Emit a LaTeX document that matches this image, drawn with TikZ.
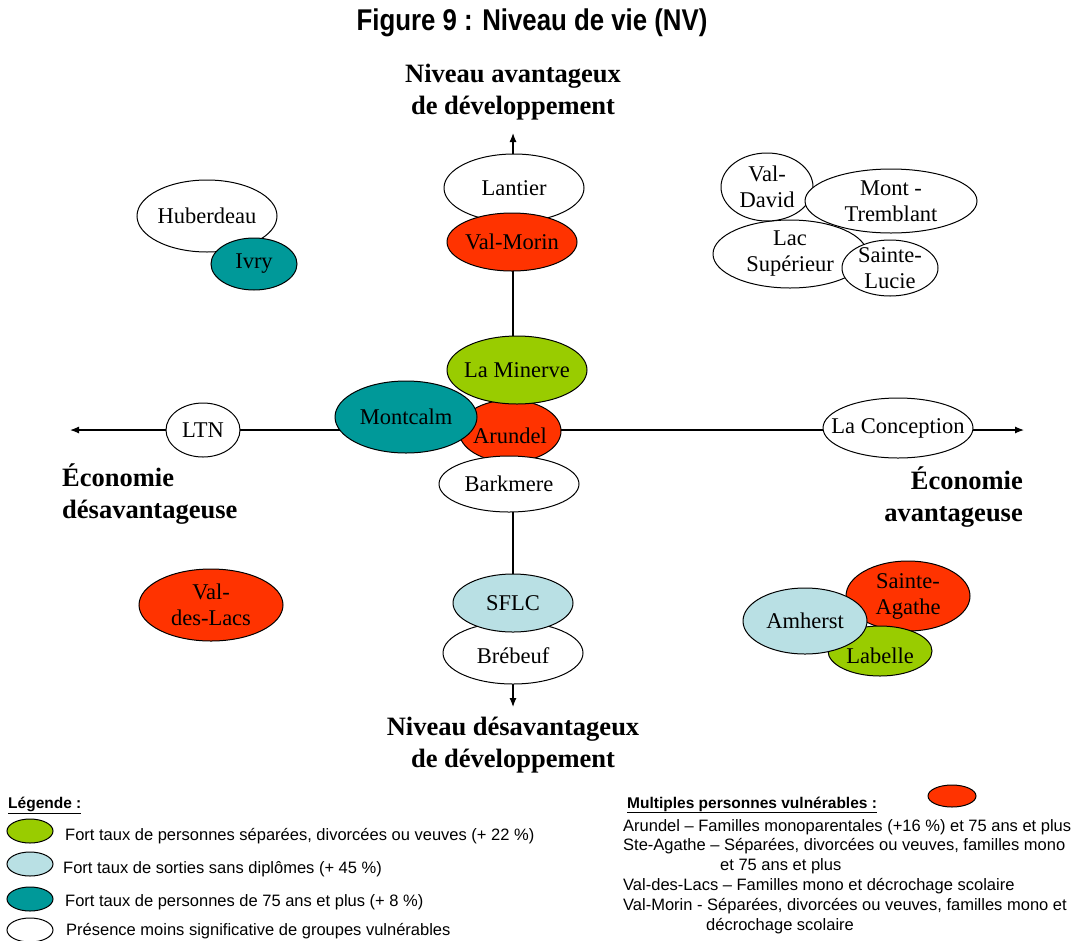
\documentclass[tikz,border=0pt]{standalone}
\usepackage{fontspec}
\setmainfont{Liberation Serif}
\setsansfont{Liberation Sans}
\newfontfamily\titlefont[FakeStretch=0.86]{Liberation Sans}
\usetikzlibrary{shapes.geometric,arrows.meta}
\definecolor{cgreen}{HTML}{99CC00}
\definecolor{cblue}{HTML}{B9E0E4}
\definecolor{cteal}{HTML}{009999}
\definecolor{cred}{HTML}{FF3300}
\tikzset{
  ell/.style={ellipse, draw=black, line width=1pt, inner sep=0pt, fill=white},
  lbl/.style={inner sep=0pt, align=center, font=\fontsize{22.5}{26}\selectfont},
  axis/.style={line width=1.2pt, -{Latex[length=9pt,width=7pt]}},
  axislbl/.style={font=\fontsize{26.5}{32}\selectfont\bfseries, inner sep=0pt},
  leg/.style={anchor=base west, font=\sffamily\fontsize{16.5}{20}\selectfont, inner sep=0pt},
  leghead/.style={anchor=base west, font=\sffamily\bfseries\fontsize{15.5}{20}\selectfont, inner sep=0pt},
  legell/.style={ellipse, draw, line width=1pt, minimum width=46pt, minimum height=24pt, inner sep=0pt},
}
\begin{document}
\begin{tikzpicture}[x=1pt,y=-1pt]
\useasboundingbox (0,0) rectangle (1075,940);

% title
\node[font=\titlefont\bfseries\fontsize{30}{34}\selectfont, inner sep=0pt] (title) at (532,23) {Figure 9 : Niveau de vie (NV)};

% axes
\coordinate (o) at (513,430);
\coordinate (top) at (513,133);
\coordinate (bot) at (513,707);
\coordinate (lft) at (70,430);
\coordinate (rgt) at (1024,430);
\draw[axis] (o) -- (top);
\draw[axis] (o) -- (bot);
\draw[axis] (o) -- (lft);
\draw[axis] (o) -- (rgt);

% axis labels
\node[axislbl, align=center] (ntop) at (513,92) {Niveau avantageux\\de développement};
\node[axislbl, align=center] (nbot) at (513,745) {Niveau désavantageux\\de développement};
\node[axislbl, align=left, anchor=west] (eleft) at (62,494) {Économie\\désavantageuse};
\node[axislbl, align=right, anchor=east] (eright) at (1023,497) {Économie\\avantageuse};

% top centre
\node[ell, minimum width=140pt, minimum height=68pt, label={[lbl]center:Lantier}] (lantier) at (514,188) {};
\node[ell, fill=cred, minimum width=130pt, minimum height=58pt, label={[lbl]center:Val-Morin}] (valmorin) at (512,242) {};

% top left
\node[ell, minimum width=140pt, minimum height=72pt, label={[lbl]center:Huberdeau}] (huberdeau) at (207,216) {};
\node[ell, fill=cteal, minimum width=86pt, minimum height=52pt, label={[lbl]center:Ivry}] (ivry) at (254,264) {};

% top right
\node[ell, minimum width=154pt, minimum height=68pt, label={[lbl]center:Lac\\Supérieur}] (lacsup) at (790,254) {};
\node[ell, minimum width=92pt, minimum height=68pt, label={[lbl]center:Val-\\David}] (valdavid) at (767,187) {};
\node[ell, minimum width=172pt, minimum height=64pt, label={[lbl]center:Mont -\\Tremblant}] (tremblant) at (891,201) {};
\node[ell, minimum width=96pt, minimum height=56pt, label={[lbl]center:Sainte-\\Lucie}] (stlucie) at (890,268) {};

% centre cluster
\node[ell, fill=cred, minimum width=102pt, minimum height=62pt, label={[lbl, yshift=-5pt]center:Arundel}] (arundel) at (510,431) {};
\node[ell, fill=cgreen, minimum width=140pt, minimum height=68pt, label={[lbl]center:La Minerve}] (laminerve) at (517,370) {};
\node[ell, fill=cteal, minimum width=142pt, minimum height=72pt, label={[lbl]center:Montcalm}] (montcalm) at (406,417) {};
\node[ell, minimum width=140pt, minimum height=56pt, label={[lbl]center:Barkmere}] (barkmere) at (509,484) {};

% axis ellipses
\node[ell, minimum width=74pt, minimum height=54pt, label={[lbl]center:LTN}] (ltn) at (203,430) {};
\node[ell, minimum width=150pt, minimum height=60pt, label={[lbl]center:La Conception}] (laconc) at (898,428) {};

% bottom centre
\node[ell, minimum width=140pt, minimum height=62pt, label={[lbl, yshift=-3pt]center:Brébeuf}] (brebeuf) at (513,653) {};
\node[ell, fill=cblue, minimum width=120pt, minimum height=58pt, label={[lbl]center:SFLC}] (sflc) at (513,603) {};

% bottom left
\node[ell, fill=cred, minimum width=144pt, minimum height=72pt, label={[lbl]center:Val-\\des-Lacs}] (valdeslacs) at (211,605) {};

% bottom right
\node[ell, fill=cred, minimum width=124pt, minimum height=70pt, label={[lbl]center:Sainte-\\Agathe}] (stagathe) at (908,596) {};
\node[ell, fill=cgreen, minimum width=104pt, minimum height=50pt, label={[lbl, yshift=-5pt]center:Labelle}] (labelle) at (880,651) {};
\node[ell, fill=cblue, minimum width=124pt, minimum height=66pt, label={[lbl]center:Amherst}] (amherst) at (805,621) {};

% legend left
\node[leghead] (leghd) at (8,808) {\underline{Légende :}};
\node[legell, fill=cgreen] (le1) at (30,831) {};
\node[legell, fill=cblue] (le2) at (30,864) {};
\node[legell, fill=cteal] (le3) at (30,899) {};
\node[legell, fill=white] (le4) at (30,930) {};
\node[leg] (lt1) at (65,840) {Fort taux de personnes séparées, divorcées ou veuves (+ 22 \%)};
\node[leg] (lt2) at (63,873) {Fort taux de sorties sans diplômes (+ 45 \%)};
\node[leg] (lt3) at (65,906) {Fort taux de personnes de 75 ans et plus (+ 8 \%)};
\node[leg] (lt4) at (66,935.5) {Présence moins significative de groupes vulnérables};

% legend right
\node[leghead] (mphd) at (627,808) {\underline{Multiples personnes vulnérables :}};
\node[legell, fill=cred, minimum width=48pt, minimum height=22pt] (mpe) at (952,796) {};
\node[leg] (m1) at (623,831) {Arundel -- Familles monoparentales (+16 \%) et 75 ans et plus};
\node[leg] (m2) at (623,850) {Ste-Agathe -- Séparées, divorcées ou veuves, familles mono};
\node[leg] (m3) at (720,870) {et 75 ans et plus};
\node[leg] (m4) at (623,890) {Val-des-Lacs -- Familles mono et décrochage scolaire};
\node[leg] (m5) at (623,910) {Val-Morin - Séparées, divorcées ou veuves, familles mono et};
\node[leg] (m6) at (706,930) {décrochage scolaire};
\end{tikzpicture}
\end{document}
